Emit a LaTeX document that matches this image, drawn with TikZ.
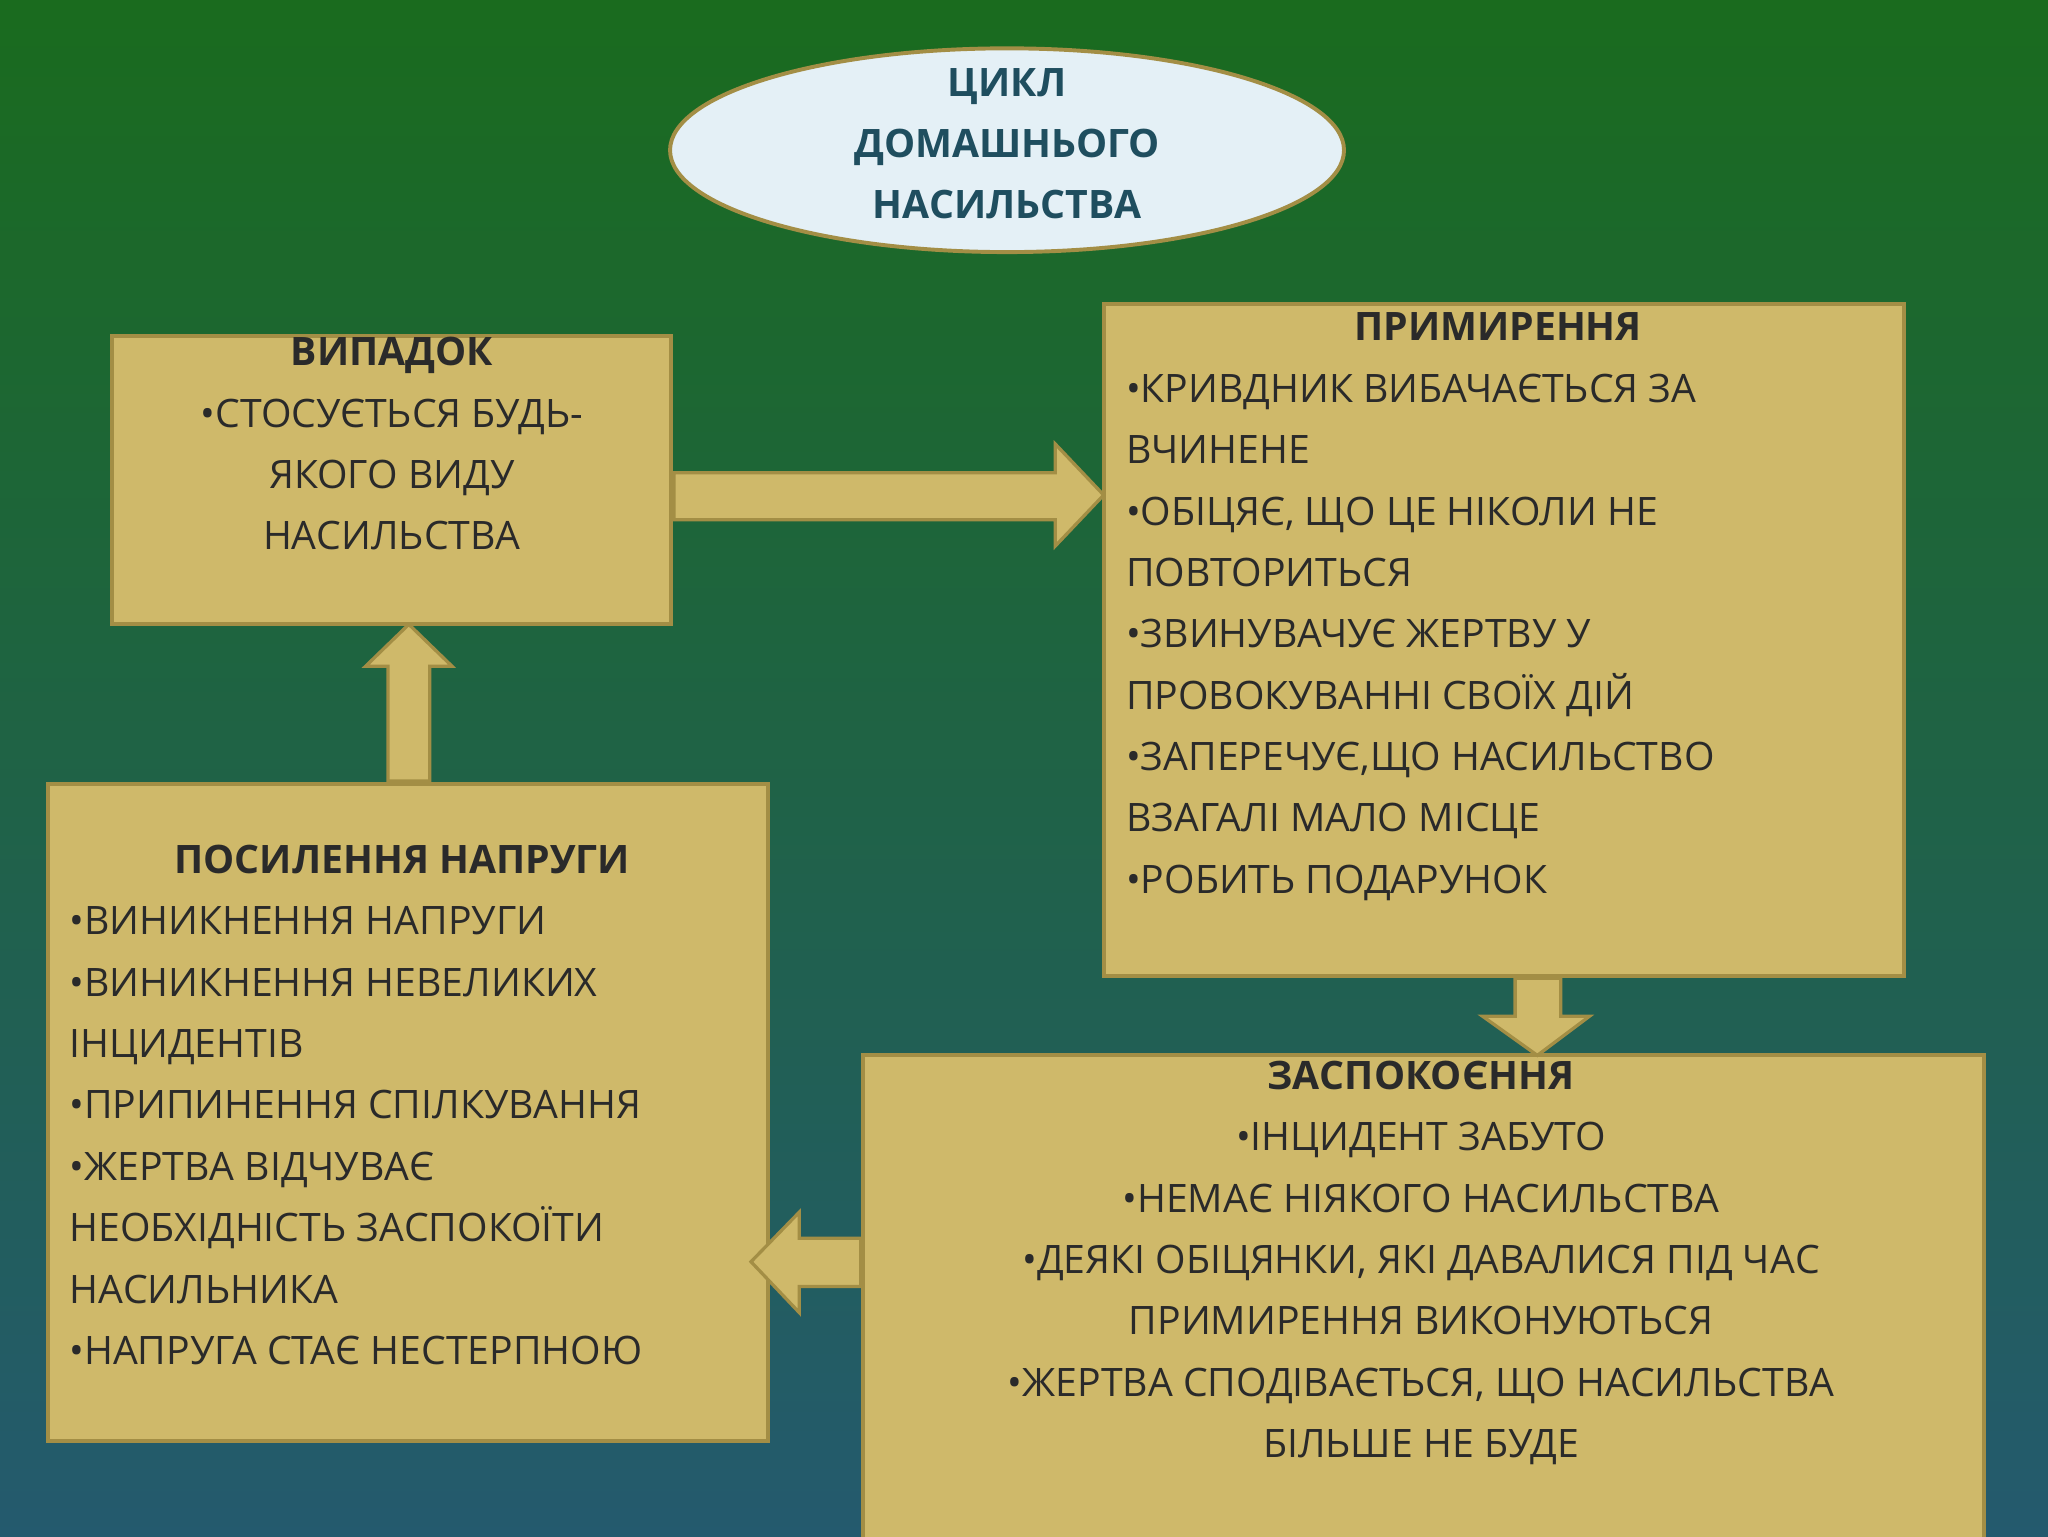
\documentclass[tikz,border=0pt]{standalone}
\usepackage{fontspec}
\setmainfont{Open Sans}
\usetikzlibrary{shapes.geometric}
\definecolor{tan}{HTML}{CFB96A}
\definecolor{tanb}{HTML}{A38E45}
\definecolor{txt}{HTML}{2A2A2A}
\definecolor{ttl}{HTML}{1F4E5F}
\begin{document}
\begin{tikzpicture}[x=1pt,y=-1pt,
 box/.style={draw=tanb,line width=3pt,fill=tan},
 arr/.style={draw=tanb,line width=2.5pt,fill=tan,line join=miter},
 tx/.style={font=\fontsize{30}{47}\selectfont,text=txt,inner sep=0pt,anchor=north}]
\useasboundingbox (0,0) rectangle (1568,1176);
\shade[top color=green!40!black!80!green!90, bottom color=blue!30!teal!80!black] (0,0) rectangle (1568,1176);
\fill[top color={rgb,255:red,26;green,107;blue,30},bottom color={rgb,255:red,36;green,90;blue,110}] (0,0) rectangle (1568,1176);
% ellipse
\node[ellipse,draw=tanb,line width=3pt,fill={rgb,255:red,228;green,240;blue,246},minimum width=516,minimum height=156,inner sep=0pt] (e) at (771,115) {};
\node[tx,text=ttl,font=\bfseries\fontsize{30}{47}\selectfont,align=center] at (771,52) {ЦИКЛ\\ДОМАШНЬОГО\\НАСИЛЬСТВА};
% boxes
\draw[box] (86,257) rectangle (514,478) coordinate (b1);
\draw[box] (845,233) rectangle (1458,747);
\draw[box] (661,808) rectangle (1519,1190);
\draw[box] (37,600) rectangle (588,1103);
% arrows
\draw[arr] (516,362) -- (808,362) -- (808,340) -- (845,379) -- (808,418) -- (808,398) -- (516,398) -- cycle;
\draw[arr] (297,598) -- (297,510) -- (280,510) -- (313,478) -- (346,510) -- (329,510) -- (329,598) -- cycle;
\draw[arr] (1160,749) -- (1160,778) -- (1135,778) -- (1177,808) -- (1217,778) -- (1195,778) -- (1195,749) -- cycle;
\draw[arr] (659,948) -- (612,948) -- (612,928) -- (575,966) -- (612,1005) -- (612,985) -- (659,985) -- cycle;
% texts
\node[tx,align=center] (t1) at (300,258) {\textbf{ВИПАДОК}\\•СТОСУЄТЬСЯ БУДЬ-\\ЯКОГО ВИДУ\\НАСИЛЬСТВА};
\node[tx,font=\bfseries\fontsize{30}{47}\selectfont] (t2a) at (1147,239) {ПРИМИРЕННЯ};
\node[tx,align=left,anchor=north west] (t2) at (862,286) {•КРИВДНИК ВИБАЧАЄТЬСЯ ЗА\\ВЧИНЕНЕ\\•ОБІЦЯЄ, ЩО ЦЕ НІКОЛИ НЕ\\ПОВТОРИТЬСЯ\\•ЗВИНУВАЧУЄ ЖЕРТВУ У\\ПРОВОКУВАННІ СВОЇХ ДІЙ\\•ЗАПЕРЕЧУЄ,ЩО НАСИЛЬСТВО\\ВЗАГАЛІ МАЛО МІСЦЕ\\•РОБИТЬ ПОДАРУНОК};
\node[tx,font=\bfseries\fontsize{30}{47}\selectfont] (t4a) at (308,647) {ПОСИЛЕННЯ НАПРУГИ};
\node[tx,align=left,anchor=north west] (t4) at (53,694) {•ВИНИКНЕННЯ НАПРУГИ\\•ВИНИКНЕННЯ НЕВЕЛИКИХ\\ІНЦИДЕНТІВ\\•ПРИПИНЕННЯ СПІЛКУВАННЯ\\•ЖЕРТВА ВІДЧУВАЄ\\НЕОБХІДНІСТЬ ЗАСПОКОЇТИ\\НАСИЛЬНИКА\\•НАПРУГА СТАЄ НЕСТЕРПНОЮ};
\node[tx,align=center] (t3) at (1088,812) {\textbf{ЗАСПОКОЄННЯ}\\•ІНЦИДЕНТ ЗАБУТО\\•НЕМАЄ НІЯКОГО НАСИЛЬСТВА\\•ДЕЯКІ ОБІЦЯНКИ, ЯКІ ДАВАЛИСЯ ПІД ЧАС\\ПРИМИРЕННЯ ВИКОНУЮТЬСЯ\\•ЖЕРТВА СПОДІВАЄТЬСЯ, ЩО НАСИЛЬСТВА\\БІЛЬШЕ НЕ БУДЕ};
\end{tikzpicture}
\end{document}
